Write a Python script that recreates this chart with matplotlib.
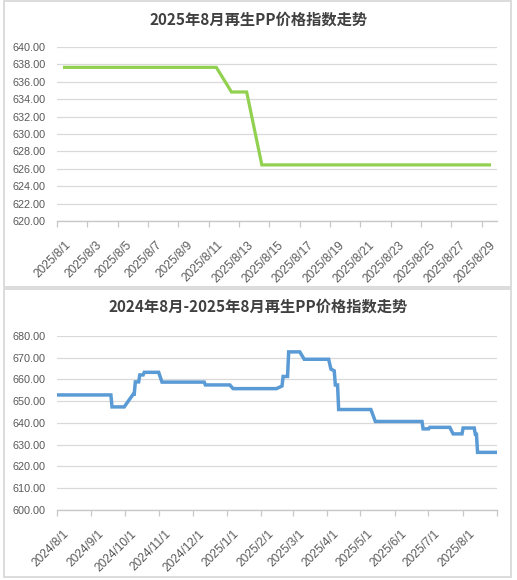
import matplotlib
matplotlib.use('Agg')
import matplotlib.pyplot as plt
import matplotlib.dates as mdates
import matplotlib.transforms as mtransforms
from matplotlib.patches import Rectangle
import pandas as pd

plt.rcParams['font.family'] = ['Noto Sans CJK SC', 'DejaVu Sans']

# 2025年8月 日度数据
aug_dates = pd.date_range('2025-08-01', '2025-08-29', freq='D')
aug_values = [637.66, 637.66, 637.66, 637.66, 637.66, 637.66, 637.66, 637.66,
              637.66, 637.66, 637.66, 634.83, 634.83, 626.45, 626.45, 626.45,
              626.45, 626.45, 626.45, 626.45, 626.45, 626.45, 626.45, 626.45,
              626.45, 626.45, 626.45, 626.45, 626.45]

# 2024年8月-2025年8月 (价格变动点)
year_dates = pd.to_datetime([
    '2024-08-01', '2024-09-18', '2024-09-19', '2024-09-30', '2024-10-08',
    '2024-10-09', '2024-10-10', '2024-10-13', '2024-10-14', '2024-10-17',
    '2024-10-18', '2024-10-31', '2024-11-03', '2024-12-11', '2024-12-12',
    '2025-01-03', '2025-01-06', '2025-02-14', '2025-02-19', '2025-02-20',
    '2025-02-24', '2025-02-25', '2025-03-07', '2025-03-11', '2025-04-02',
    '2025-04-04', '2025-04-07', '2025-04-08', '2025-04-10', '2025-04-11',
    '2025-05-10', '2025-05-14', '2025-06-25', '2025-06-26', '2025-07-01',
    '2025-07-02', '2025-07-20', '2025-07-23', '2025-07-31', '2025-08-01',
    '2025-08-11', '2025-08-12', '2025-08-13', '2025-08-14', '2025-08-31'])
year_values = [
    652.9, 652.9, 647.4, 647.4, 653.2,
    653.2, 658.9, 658.9, 662.1, 662.1,
    663.3, 663.3, 658.8, 658.8, 657.5,
    657.5, 655.8, 655.8, 657.0, 661.4,
    661.4, 672.7, 672.7, 669.3, 669.3,
    664.8, 664.0, 657.5, 657.5, 646.2,
    646.2, 640.7, 640.7, 637.3, 637.3,
    638.0, 638.0, 635.0, 635.0, 637.7,
    637.7, 634.8, 634.8, 626.5, 626.5]

aug_ticks = pd.date_range('2025-08-01', '2025-08-29', freq='2D')
year_ticks = pd.date_range('2024-08-01', '2025-09-01', freq='MS')

title_top = '2025年8月再生PP价格指数走势'
title_bottom = '2024年8月-2025年8月再生PP价格指数走势'

grid_c = '#d9d9d9'
text_c = '#595959'
half_day = pd.Timedelta(hours=12)

fig = plt.figure(figsize=(5.17, 5.8), dpi=100)

# 两个面板的边框
fig.add_artist(Rectangle((4 / 517, 1 - 287 / 580), 507 / 517, 286 / 580,
                         transform=fig.transFigure, fill=False,
                         edgecolor=grid_c, lw=1.3))
fig.add_artist(Rectangle((4 / 517, 1 - 577 / 580), 507 / 517, 288 / 580,
                         transform=fig.transFigure, fill=False,
                         edgecolor=grid_c, lw=1.3))

ax1 = fig.add_axes([57 / 517, 1 - 221 / 580, 440 / 517, 174 / 580])
ax2 = fig.add_axes([57 / 517, 1 - 510 / 580, 440 / 517, 174 / 580])


def style_axis(ax, ticks, labels, dx):
    for s in ['top', 'right', 'left']:
        ax.spines[s].set_visible(False)
    ax.spines['bottom'].set_color('#c8c8c8')
    ax.spines['bottom'].set_linewidth(1.0)
    ax.grid(axis='y', color=grid_c, lw=0.9)
    ax.set_axisbelow(True)
    ax.tick_params(axis='y', length=0, pad=8, labelsize=7.8, labelcolor=text_c)
    ax.tick_params(axis='x', length=4, width=0.9, color='#c8c8c8', pad=9,
                   labelsize=8.6, labelcolor=text_c)
    ax.yaxis.set_major_formatter(plt.FormatStrFormatter('%.2f'))
    for lab in ax.get_yticklabels():
        lab.set_family(['Liberation Sans', 'DejaVu Sans'])
    ax.set_xticks(ticks)
    ax.set_xticklabels(labels, rotation=45, ha='right', va='top',
                       rotation_mode='anchor', family=['Liberation Sans', 'DejaVu Sans'])
    off = mtransforms.ScaledTranslation(dx / 100, 0, fig.dpi_scale_trans)
    for lab in ax.get_xticklabels():
        lab.set_transform(lab.get_transform() + off)


# 上图
ax1.plot(aug_dates + half_day, aug_values, color='#92d050', lw=2.3,
         solid_joinstyle='miter')
ax1.set_ylim(620, 640)
ax1.set_yticks(range(620, 641, 2))
ax1.set_xlim(aug_dates[0], aug_dates[-1] + pd.Timedelta(days=1))
style_axis(ax1, aug_ticks, [f'{d.year}/{d.month}/{d.day}' for d in aug_ticks], 8)

# 下图
ax2.plot(year_dates + half_day, year_values, color='#5b9bd5', lw=2.5,
         solid_joinstyle='miter')
ax2.set_ylim(600, 680)
ax2.set_yticks(range(600, 681, 10))
ax2.set_xlim(year_ticks[0], year_ticks[-1])
year_labels = [f'{d.year}/{d.month}/{d.day}' for d in year_ticks]
year_labels[-1] = ''
style_axis(ax2, year_ticks, year_labels, 6)

fig.text(0.5, 1 - 20 / 580, title_top, ha='center', va='center',
         fontsize=11, fontweight='bold', color='#404040')
fig.text(0.5, 1 - 307 / 580, title_bottom, ha='center', va='center',
         fontsize=11, fontweight='bold', color='#404040')

fig.savefig('out.png', dpi=100)
